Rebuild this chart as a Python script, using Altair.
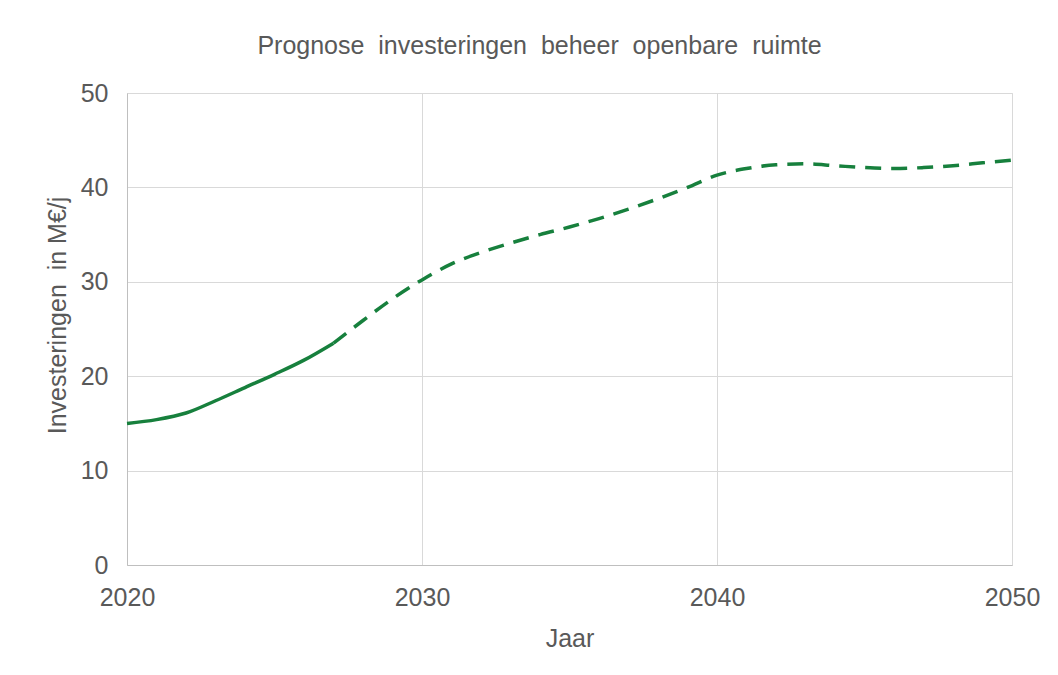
import altair as alt
import pandas as pd

years = list(range(2020, 2051))
values = [15.0, 15.4, 16.1, 17.4, 18.8, 20.2, 21.7, 23.5,
          25.9, 28.2, 30.2, 31.9, 33.1, 34.1, 35.0, 35.8,
          36.7, 37.7, 38.8, 40.0, 41.3, 42.0, 42.4, 42.5,
          42.3, 42.1, 42.0, 42.1, 42.3, 42.6, 42.9]
split_year = 2027

df = pd.DataFrame({"Jaar": years, "Waarde": values})
solid = df[df["Jaar"] <= split_year]
dashed = df[df["Jaar"] >= split_year]

GREEN = "#17803d"
TXT = "#595959"
FONT = "Liberation Sans"
NB = "\u00a0"

x = alt.X("Jaar:Q", scale=alt.Scale(domain=[2020, 2050], nice=False),
          axis=alt.Axis(values=[2020, 2030, 2040, 2050], format="d",
                        title="Jaar", titleFontSize=25, titleFont=FONT,
                        titleColor=TXT, titleFontWeight="normal",
                        titlePadding=16, labelFontSize=25, labelFont=FONT,
                        labelColor=TXT, labelPadding=20, ticks=False,
                        domainColor="#bfbfbf", gridColor="#d9d9d9",
                        labelFlush=False))
y = alt.Y("Waarde:Q", scale=alt.Scale(domain=[0, 50], nice=False),
          axis=alt.Axis(values=[0, 10, 20, 30, 40, 50],
                        title=f"Investeringen {NB}in M€/j", titleFontSize=25,
                        titleFont=FONT, titleColor=TXT,
                        titleFontWeight="normal", titlePadding=10,
                        titleY=222,
                        labelFontSize=25, labelFont=FONT, labelColor=TXT,
                        labelPadding=19, ticks=False, domainColor="#bfbfbf",
                        gridColor="#d9d9d9"))

l1 = alt.Chart(solid).mark_line(color=GREEN, strokeWidth=3.5,
                                interpolate="monotone").encode(x=x, y=y)
l2 = alt.Chart(dashed).mark_line(color=GREEN, strokeWidth=3.5,
                                 strokeDash=[16, 10],
                                 interpolate="monotone").encode(x=x, y=y)

title_text = f"Prognose {NB}investeringen {NB}beheer {NB}openbare {NB}ruimte"

chart = (l1 + l2).properties(
    width=885, height=472,
    title=alt.TitleParams(title_text, fontSize=25, font=FONT, color=TXT,
                          fontWeight="normal", offset=22, dx=-30),
    autosize=alt.AutoSizeParams(type="none"),
    padding={"left": 119, "top": 85, "right": 38, "bottom": 100},
).configure_view(stroke="#d9d9d9").configure(background="white")

chart.save("out.html", embed_options={"renderer": "svg", "actions": False})
